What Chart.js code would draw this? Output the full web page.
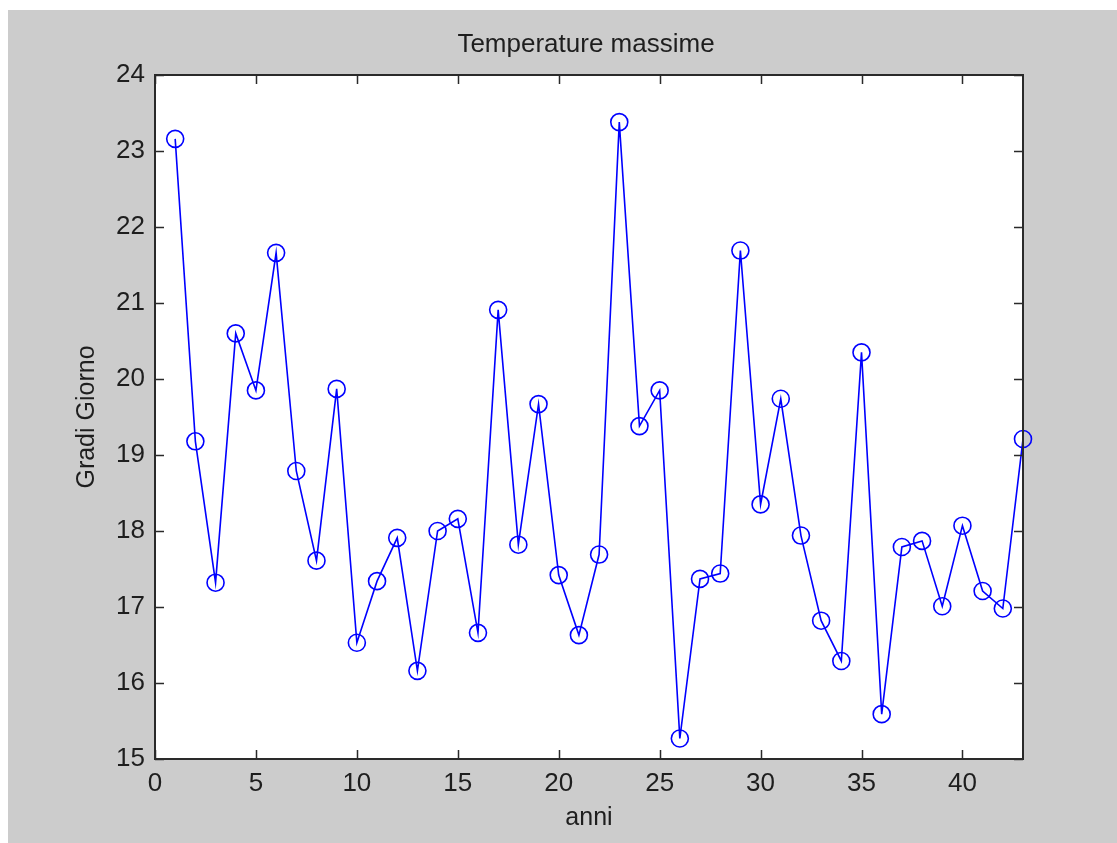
<!DOCTYPE html>
<html>
<head>
<meta charset="utf-8">
<script src="https://cdn.jsdelivr.net/npm/chart.js@4.4.0/dist/chart.umd.min.js"></script>
<style>
  html,body{margin:0;padding:0;background:#fff;}
  #wrap{width:1117px;height:843px;}
</style>
</head>
<body>
<div id="wrap"><canvas id="tempChart" width="1117" height="843"></canvas></div>
<script>
// years on the x axis and the yearly maximum (gradi giorno)
const anni = [1,2,3,4,5,6,7,8,9,10,11,12,13,14,15,16,17,18,19,20,21,22,23,24,25,26,27,28,29,30,31,32,33,34,35,36,37,38,39,40,41,42,43];
const gradiMax = [23.16,19.18,17.32,20.60,19.85,21.66,18.79,17.61,19.87,16.53,
                  17.34,17.91,16.16,18.00,18.16,16.66,20.91,17.82,19.67,17.42,
                  16.63,17.69,23.38,19.38,19.85,15.27,17.37,17.44,21.69,18.35,
                  19.74,17.94,16.82,16.29,20.35,15.59,17.79,17.87,17.01,18.07,
                  17.21,16.98,19.21];
const xRange = [0, 43];
const yRange = [15, 24];

const tickFont = {family:'"Liberation Sans",Arial,sans-serif', size:26};
const labelFont = {family:'"Liberation Sans",Arial,sans-serif', size:25};
const ink = '#1e1e1e';

// gray figure, white axes box, inward ticks on all four sides, title
const matlabFrame = {
  id:'matlabFrame',
  beforeDraw(chart){
    const {ctx, chartArea:a, width, height} = chart;
    ctx.save();
    ctx.fillStyle = '#fff'; ctx.fillRect(0,0,width,height);
    ctx.fillStyle = '#cccccc'; ctx.fillRect(8,10,width-8,height-10);
    ctx.fillStyle = '#fff'; ctx.fillRect(a.left,a.top,a.right-a.left,a.bottom-a.top);
    ctx.restore();
  },
  afterDraw(chart){
    const {ctx, chartArea:a, scales} = chart;
    const tl = 9;
    ctx.save();
    ctx.strokeStyle = '#2a2a2a'; ctx.lineWidth = 1.5;
    ctx.beginPath();
    scales.x.ticks.forEach(t=>{
      const px = Math.round(scales.x.getPixelForValue(t.value))+0.5;
      ctx.moveTo(px,a.bottom); ctx.lineTo(px,a.bottom-tl);
      ctx.moveTo(px,a.top); ctx.lineTo(px,a.top+tl);
    });
    scales.y.ticks.forEach(t=>{
      const py = Math.round(scales.y.getPixelForValue(t.value))+0.5;
      ctx.moveTo(a.left,py); ctx.lineTo(a.left+tl,py);
      ctx.moveTo(a.right,py); ctx.lineTo(a.right-tl,py);
    });
    ctx.stroke();
    ctx.lineWidth = 2;
    ctx.strokeRect(a.left,a.top,a.right-a.left,a.bottom-a.top);
    ctx.fillStyle = ink;
    ctx.font = '26px "Liberation Sans",Arial,sans-serif';
    ctx.textAlign = 'center'; ctx.textBaseline = 'middle';
    ctx.fillText('Temperature massime', 586, 45);
    ctx.restore();
  }
};

new Chart(document.getElementById('tempChart'), {
  type:'line',
  data:{
    labels: anni,
    datasets:[{
      data: anni.map((a,i)=>({x:a, y:gradiMax[i]})),
      borderColor:'#0000ff', borderWidth:1.6, tension:0,
      pointStyle:'circle', pointRadius:8.5, pointHoverRadius:8.5,
      pointBorderColor:'#0000ff', pointBackgroundColor:'rgba(0,0,0,0)', pointBorderWidth:1.6,
      clip:false
    }]
  },
  options:{
    responsive:false, animation:false, devicePixelRatio:1,
    layout:{padding:{left:0, top:75, right:94, bottom:0}},
    plugins:{legend:{display:false}, tooltip:{enabled:false}, title:{display:false}},
    scales:{
      x:{
        type:'linear', min:xRange[0], max:xRange[1],
        afterFit(s){ s.height = 84; },
        grid:{display:false, drawTicks:false}, border:{display:false},
        ticks:{stepSize:5, includeBounds:false, padding:9, color:ink, font:tickFont, maxRotation:0},
        title:{display:true, text:'anni', color:ink, font:labelFont, padding:{top:0, bottom:10}}
      },
      y:{
        min:yRange[0], max:yRange[1],
        afterFit(s){ s.width = 155; },
        grid:{display:false, drawTicks:false}, border:{display:false},
        ticks:{stepSize:1, padding:10, color:ink, font:tickFont},
        title:{display:true, text:'Gradi Giorno', color:ink, font:labelFont, padding:{top:72, bottom:0}}
      }
    }
  },
  plugins:[matlabFrame]
});
</script>
</body>
</html>
